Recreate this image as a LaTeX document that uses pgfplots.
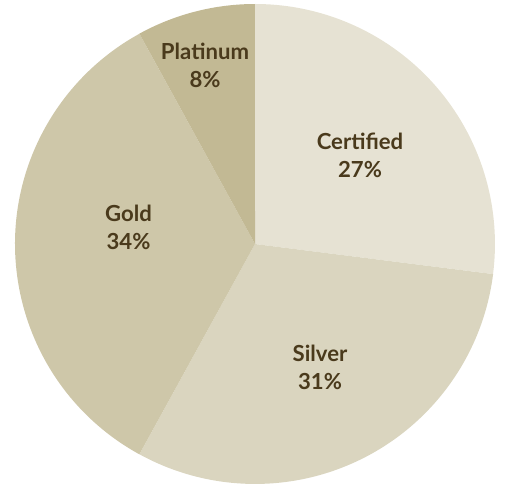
\documentclass[border=0pt]{standalone}
\usepackage{pgfplots}
\pgfplotsset{compat=1.18}
\usepackage{pgfplotstable}
\usepackage{fontspec}
\setmainfont{Lato}[BoldFont={Lato Bold}]

\definecolor{c0}{HTML}{E6E2D3}
\definecolor{c1}{HTML}{DAD5BF}
\definecolor{c2}{HTML}{CEC7A9}
\definecolor{c3}{HTML}{C2B994}
\definecolor{txt}{HTML}{4A3A1C}

% share in percent, label offset from centre in px
\pgfplotstableread{
name      pct  lx     ly
Certified 27   105    88.5
Silver    31   65     -123.5
Gold      34   -126.5 16.5
Platinum  8    -50    178.5
}\piedata

% cumulative angles, clockwise from the top
\gdef\cum{90}
\foreach \i in {0,...,3}{%
  \pgfplotstablegetelem{\i}{pct}\of\piedata
  \pgfmathsetmacro\ea{\cum-3.6*\pgfplotsretval}%
  \expandafter\xdef\csname sa\i\endcsname{\cum}%
  \expandafter\xdef\csname ea\i\endcsname{\ea}%
  \xdef\cum{\ea}%
  \pgfplotstablegetelem{\i}{name}\of\piedata
  \expandafter\xdef\csname nm\i\endcsname{\pgfplotsretval}%
  \pgfplotstablegetelem{\i}{pct}\of\piedata
  \expandafter\xdef\csname pc\i\endcsname{\pgfplotsretval}%
  \pgfplotstablegetelem{\i}{lx}\of\piedata
  \expandafter\xdef\csname lx\i\endcsname{\pgfplotsretval}%
  \pgfplotstablegetelem{\i}{ly}\of\piedata
  \expandafter\xdef\csname ly\i\endcsname{\pgfplotsretval}%
}

\begin{document}
\begin{tikzpicture}
\begin{axis}[
    name=pie,
    x=0.02cm, y=0.02cm,
    xmin=-255, xmax=269,
    ymin=-243, ymax=244,
    hide axis,
    clip=false,
]
\pgfplotsinvokeforeach{0,...,3}{
  \fill[c#1] (axis cs:0,0)
    -- (axis cs:{240*cos(\csname sa#1\endcsname)},{240*sin(\csname sa#1\endcsname)})
    arc[start angle=\csname sa#1\endcsname, end angle=\csname ea#1\endcsname, radius=4.8cm]
    -- cycle;
}
\pgfplotsinvokeforeach{0,...,3}{
  \node[align=center, text=txt, inner sep=0pt,
        font=\fontsize{12.6}{15.9}\selectfont\bfseries]
    at (axis cs:\csname lx#1\endcsname,\csname ly#1\endcsname)
    {\csname nm#1\endcsname\\\csname pc#1\endcsname\%};
}
\end{axis}
\pgfresetboundingbox
\path (pie.south west) rectangle (pie.north east);
\end{tikzpicture}
\end{document}
